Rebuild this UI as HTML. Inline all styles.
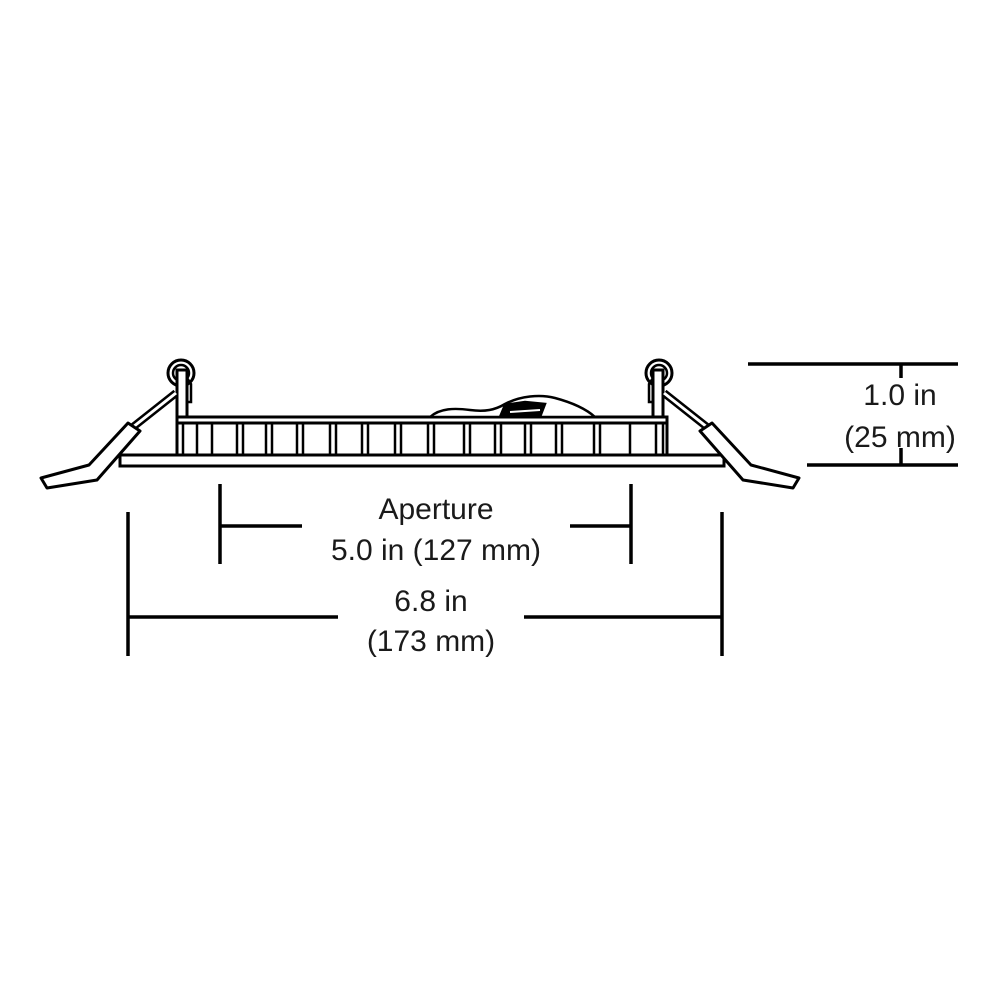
<!DOCTYPE html>
<html><head><style>
html,body{margin:0;padding:0;background:#fff}
svg{display:block}
text{font-family:"Liberation Sans",sans-serif;font-size:30px;fill:#1a1a1a}
</style></head><body>
<svg width="1000" height="1000" viewBox="0 0 1000 1000" xmlns="http://www.w3.org/2000/svg">
<rect width="1000" height="1000" fill="#fff"/>
<g stroke="#000" stroke-width="3" fill="none">
  <rect x="120" y="455" width="604" height="11" fill="#fff"/>
  <rect x="177" y="417" width="490" height="38" fill="#fff"/>
  <line x1="177" y1="423" x2="667" y2="423"/>
</g>
<g stroke="#000" stroke-width="2.5">
  <line x1="183" y1="423" x2="183" y2="455"/><line x1="663" y1="423" x2="663" y2="455"/>
  <line x1="197" y1="423" x2="197" y2="455"/><line x1="212" y1="423" x2="212" y2="455"/>
  <line x1="237" y1="423" x2="237" y2="455"/><line x1="243" y1="423" x2="243" y2="455"/>
  <line x1="266" y1="423" x2="266" y2="455"/><line x1="272" y1="423" x2="272" y2="455"/>
  <line x1="297" y1="423" x2="297" y2="455"/><line x1="303" y1="423" x2="303" y2="455"/>
  <line x1="330" y1="423" x2="330" y2="455"/><line x1="336" y1="423" x2="336" y2="455"/>
  <line x1="362" y1="423" x2="362" y2="455"/><line x1="368" y1="423" x2="368" y2="455"/>
  <line x1="395" y1="423" x2="395" y2="455"/><line x1="401" y1="423" x2="401" y2="455"/>
  <line x1="428" y1="423" x2="428" y2="455"/><line x1="434" y1="423" x2="434" y2="455"/>
  <line x1="464" y1="423" x2="464" y2="455"/><line x1="470" y1="423" x2="470" y2="455"/>
  <line x1="495" y1="423" x2="495" y2="455"/><line x1="501" y1="423" x2="501" y2="455"/>
  <line x1="525" y1="423" x2="525" y2="455"/><line x1="531" y1="423" x2="531" y2="455"/>
  <line x1="556" y1="423" x2="556" y2="455"/><line x1="562" y1="423" x2="562" y2="455"/>
  <line x1="594" y1="423" x2="594" y2="455"/><line x1="600" y1="423" x2="600" y2="455"/>
  <line x1="630" y1="423" x2="630" y2="455"/><line x1="656" y1="423" x2="656" y2="455"/>
</g>
<g stroke="#000" stroke-width="2.5" fill="#fff">
  <path d="M430,417 C440,408 455,408 470,410 C485,412 495,410 505,404 C520,396 540,394 555,398 C570,402 585,408 595,417 Z"/>
  <path d="M500,417 L505,405 L525,402 L545,404 L540,417 Z" fill="#000"/>
  <path d="M510,412 L540,410" stroke="#fff" stroke-width="2"/>
</g>
<g id="clip">
  <circle cx="181" cy="373" r="13" fill="#fff" stroke="#000" stroke-width="3"/>
  <circle cx="181" cy="373" r="8" fill="none" stroke="#000" stroke-width="2.5"/>
  <rect x="177" y="370" width="10" height="47" fill="#fff" stroke="#000" stroke-width="3"/>
  <path d="M187,378 L191,384 L191,402 L188,402" fill="none" stroke="#000" stroke-width="2.5"/>
  <line x1="176" y1="393" x2="133" y2="427" stroke="#000" stroke-width="8"/>
  <line x1="176" y1="393" x2="133" y2="427" stroke="#fff" stroke-width="3"/>
  <polygon points="128,423 140,431 97,480 47,488 41,478 89,465" fill="#fff" stroke="#000" stroke-width="3" stroke-linejoin="round"/>
</g>
<use href="#clip" transform="translate(840,0) scale(-1,1)"/>
<g stroke="#000" stroke-width="3.5">
  <line x1="748" y1="364" x2="958" y2="364"/>
  <line x1="807" y1="465" x2="958" y2="465"/>
  <line x1="901" y1="364" x2="901" y2="378"/>
  <line x1="901" y1="448" x2="901" y2="465"/>
  <line x1="220" y1="484" x2="220" y2="564"/>
  <line x1="631" y1="484" x2="631" y2="564"/>
  <line x1="220" y1="526" x2="302" y2="526"/>
  <line x1="570" y1="526" x2="631" y2="526"/>
  <line x1="128" y1="512" x2="128" y2="656"/>
  <line x1="722" y1="512" x2="722" y2="656"/>
  <line x1="128" y1="617" x2="338" y2="617"/>
  <line x1="524" y1="617" x2="722" y2="617"/>
</g>
<text x="900" y="405" text-anchor="middle">1.0 in</text>
<text x="900" y="447" text-anchor="middle">(25 mm)</text>
<text x="436" y="519" text-anchor="middle">Aperture</text>
<text x="436" y="560" text-anchor="middle">5.0 in (127 mm)</text>
<text x="431" y="611" text-anchor="middle">6.8 in</text>
<text x="431" y="651" text-anchor="middle">(173 mm)</text>
</svg>
</body></html>
